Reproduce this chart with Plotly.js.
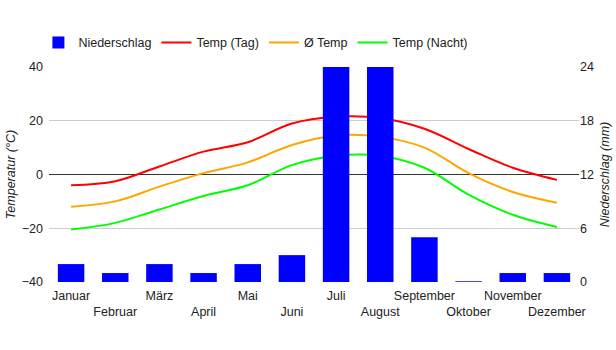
<!DOCTYPE html>
<html>
<head>
<meta charset="utf-8">
<script src="https://cdn.plot.ly/plotly-3.0.1.min.js"></script>
<style>html,body{margin:0;padding:0;background:#fff;}#chart{width:616px;height:350px;}</style>
</head>
<body>
<div id="chart"></div>
<script>
var months = ["Januar","Februar","März","April","Mai","Juni","Juli","August","September","Oktober","November","Dezember"];
var precipitation = [2, 1, 2, 1, 2, 3, 30, 28, 5, 0.08, 1, 1];
var tempDay = [-4, -2.5, 3, 8.5, 12, 19, 21.5, 21, 17, 9.5, 2.5, -2];
var tempAvg = [-12, -10, -4.5, 0.5, 4.5, 11, 14.5, 14, 10, 0.5, -6.5, -10.5];
var tempNight = [-20.5, -18, -13, -8, -4, 3.5, 7, 7, 2.5, -7.5, -15, -19.5];
var tempTicks = [-40, -20, 0, 20, 40];
var precipTicks = [0, 6, 12, 18, 24];
var seriesNames = ["Niederschlag", "Temp (Tag)", "Ø Temp", "Temp (Nacht)"];

var FONT = "Liberation Sans, Arial, sans-serif";
var tickText = months.map(function(m, i){ return i % 2 === 0 ? m : "<br>" + m; });

var data = [
  {type: "bar", name: seriesNames[0], x: months, y: precipitation, yaxis: "y2",
   marker: {color: "#0000ff"}},
  {type: "scatter", mode: "lines", name: seriesNames[1], x: months, y: tempDay,
   line: {color: "#ff0000", width: 2, shape: "spline", smoothing: 1}},
  {type: "scatter", mode: "lines", name: seriesNames[2], x: months, y: tempAvg,
   line: {color: "#ffa500", width: 2, shape: "spline", smoothing: 1}},
  {type: "scatter", mode: "lines", name: seriesNames[3], x: months, y: tempNight,
   line: {color: "#00ff00", width: 2, shape: "spline", smoothing: 1}}
];

var layout = {
  width: 616, height: 350,
  margin: {l: 49, r: 37, t: 67, b: 68, pad: 0},
  paper_bgcolor: "#fff", plot_bgcolor: "#fff",
  font: {family: FONT, size: 12.5, color: "#222"},
  bargap: 0.4,
  showlegend: true,
  legend: {orientation: "h", x: -0.02, xanchor: "left", y: 1.112, yanchor: "middle",
           font: {family: FONT, size: 12.5, color: "#222"}, bgcolor: "rgba(0,0,0,0)"},
  xaxis: {type: "category", tickmode: "array", tickvals: months, ticktext: tickText,
          tickangle: 0, showgrid: false, zeroline: false, showline: false, ticks: "",
          ticklabelstandoff: 4,
          tickfont: {family: FONT, size: 12.5, color: "#222"}},
  yaxis: {range: [-40, 40], tickmode: "array", tickvals: tempTicks,
          showgrid: true, gridcolor: "#cccccc", gridwidth: 1,
          zeroline: true, zerolinecolor: "#333333", zerolinewidth: 1,
          showline: false, ticks: "", ticklabelstandoff: 5,
          tickfont: {family: FONT, size: 12.5, color: "#222"},
          title: {text: "Temperatur (°C)", standoff: 3,
                  font: {family: FONT, size: 12.5, color: "#222", style: "italic"}}},
  yaxis2: {range: [0, 24], tickmode: "array", tickvals: precipTicks, overlaying: "y", side: "right",
           showgrid: false, zeroline: false, showline: false, ticks: "",
           tickfont: {family: FONT, size: 12.5, color: "#222"},
           title: {text: "Niederschlag (mm)", standoff: 7,
                   font: {family: FONT, size: 12.5, color: "#222", style: "italic"}}}
};

Plotly.newPlot("chart", data, layout, {displayModeBar: false, staticPlot: true});
</script>
</body>
</html>
